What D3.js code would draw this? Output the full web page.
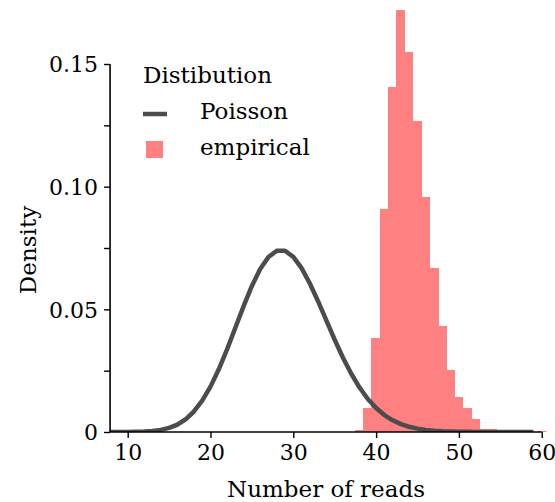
<!DOCTYPE html>
<html><head><meta charset="utf-8">
<script src="https://cdn.jsdelivr.net/npm/d3@7"></script>
<style>
html,body{margin:0;padding:0;background:#fff;}
svg{display:block;}
text{font-family:"DejaVu Serif",serif;fill:#000;}
</style></head>
<body>
<svg id="chart" width="555" height="502"></svg>
<script>
// Empirical histogram: left bin edges and densities
const binLeft = [37.42,38.42,39.43,40.43,41.44,42.44,43.44,44.45,45.45,46.46,47.46,48.46,49.47,50.47,51.48,52.48,53.48,54.49,55.49,56.50,57.50,58.50,59.51];
const binWidth = 1.004;
const empiricalDensity = [0.0008,0.0098,0.0383,0.0909,0.1406,0.1720,0.1549,0.1267,0.0958,0.0668,0.0433,0.0253,0.0143,0.0098,0.0052,0.0012,0.0012,0.0002,0.0002,0.0002,0.0001,0.0001,0.0004];

// Poisson curve points
const poissonX = [7,8,9,10,11,12,13,14,15,16,17,18,19,20,21,22,23,24,25,26,27,28,29,30,31,32,33,34,35,36,37,38,39,40,41,42,43,44,45,46,47,48,49,50,51,52,53,54,55,56,57,58,59];
const poissonY = [0.0000009,0.0000032,0.0000102,0.0000295,0.0000777,0.000188,0.000419,0.000868,0.00168,0.00304,0.00519,0.00836,0.01276,0.01850,0.02555,0.03368,0.04247,0.05132,0.05953,0.06640,0.07132,0.07387,0.07387,0.07141,0.06680,0.06054,0.05320,0.04538,0.03760,0.03029,0.02374,0.01812,0.01347,0.00977,0.00691,0.00477,0.00322,0.00212,0.00137,0.000863,0.000533,0.000322,0.000190,0.000110,0.0000627,0.0000350,0.0000191,0.0000103,0.0000054,0.0000028,0.0000014,0.0000007,0.0000003];

const xTicks = [10,20,30,40,50,60];
const yMajorTicks = [0,0.05,0.10,0.15];
const yMinorTicks = [0,0.025,0.05,0.075,0.10,0.125,0.15];
const yTickLabels = ["0","0.05","0.10","0.15"];

const legendTitle = "Distibution";
const legendLabels = ["Poisson","empirical"];
const xLabel = "Number of reads";
const yLabel = "Density";

const barColor = "#ff8080";
const lineColor = "#4c4c4c";

const svg = d3.select("#chart");
const x = d3.scaleLinear().domain([10,60]).range([127.7,541.7]);
const y = d3.scaleLinear().domain([0,0.15]).range([432,64]);
const plotLeft = x(7.87), plotRight = 546.5;

svg.append("defs").append("clipPath").attr("id","clip")
  .append("rect").attr("x",plotLeft).attr("y",0).attr("width",plotRight-plotLeft).attr("height",y(0));

const plot = svg.append("g").attr("clip-path","url(#clip)");

plot.selectAll("rect.bar").data(binLeft.map((l,i)=>({l, d: empiricalDensity[i]})))
  .enter().append("rect").attr("class","bar")
  .attr("x", d=>x(d.l))
  .attr("width", d=>x(d.l+binWidth)-x(d.l)+0.6)
  .attr("y", d=>y(d.d))
  .attr("height", d=>y(0)-y(d.d))
  .attr("fill", barColor)
  .attr("shape-rendering","crispEdges");

const line = d3.line().x(d=>x(d[0])).y(d=>y(d[1])).curve(d3.curveLinear);
plot.append("path")
  .datum(poissonX.map((v,i)=>[v,poissonY[i]]))
  .attr("d", line)
  .attr("fill","none")
  .attr("stroke", lineColor)
  .attr("stroke-width", 4.5)
  .attr("stroke-linejoin","round");

// Y axis
const yAxis = svg.append("g").attr("transform",`translate(${plotLeft},0)`)
  .call(d3.axisLeft(y).tickValues(yMinorTicks).tickSize(6)
    .tickFormat(d=>{const i=yMajorTicks.findIndex(t=>Math.abs(t-d)<1e-9); return i>=0?yTickLabels[i]:"";}));
yAxis.select(".domain").attr("d",`M0,${y(0.15)}V${y(0)}`).attr("stroke","#000").attr("stroke-width",1.6);
yAxis.selectAll(".tick line").attr("stroke","#000").attr("stroke-width",1.4);
yAxis.selectAll(".tick text").attr("x",-12).style("font-size","22px").attr("dy","0.36em")
  .style("font-family","'DejaVu Serif',serif");

// X axis
const xAxis = svg.append("g").attr("transform",`translate(0,${y(0)})`)
  .call(d3.axisBottom(x).tickValues(xTicks).tickSize(6).tickFormat(d3.format("d")));
xAxis.select(".domain").attr("d",`M${plotLeft},0H${x(60)}`).attr("stroke","#000").attr("stroke-width",1.6);
xAxis.selectAll(".tick line").attr("stroke","#000").attr("stroke-width",1.4);
xAxis.selectAll(".tick text").attr("y",12).attr("dy","0.71em").style("font-size","22px")
  .style("font-family","'DejaVu Serif',serif");

// Axis labels
svg.append("text").attr("x",326).attr("y",497).attr("text-anchor","middle")
  .style("font-size","23px").text(xLabel);
svg.append("text").attr("transform",`translate(36,${y(0.075)+2}) rotate(-90)`).attr("text-anchor","middle")
  .style("font-size","23px").text(yLabel);

// Legend
const lg = svg.append("g");
lg.append("text").attr("x",143).attr("y",83).style("font-size","23px").text(legendTitle);
lg.append("line").attr("x1",143).attr("x2",167).attr("y1",114).attr("y2",114)
  .attr("stroke",lineColor).attr("stroke-width",4.5);
lg.append("text").attr("x",200).attr("y",119).style("font-size","23px").text(legendLabels[0]);
lg.append("rect").attr("x",146).attr("y",141).attr("width",17).attr("height",17).attr("fill",barColor);
lg.append("text").attr("x",200).attr("y",155).style("font-size","23px").text(legendLabels[1]);
</script>
</body></html>
